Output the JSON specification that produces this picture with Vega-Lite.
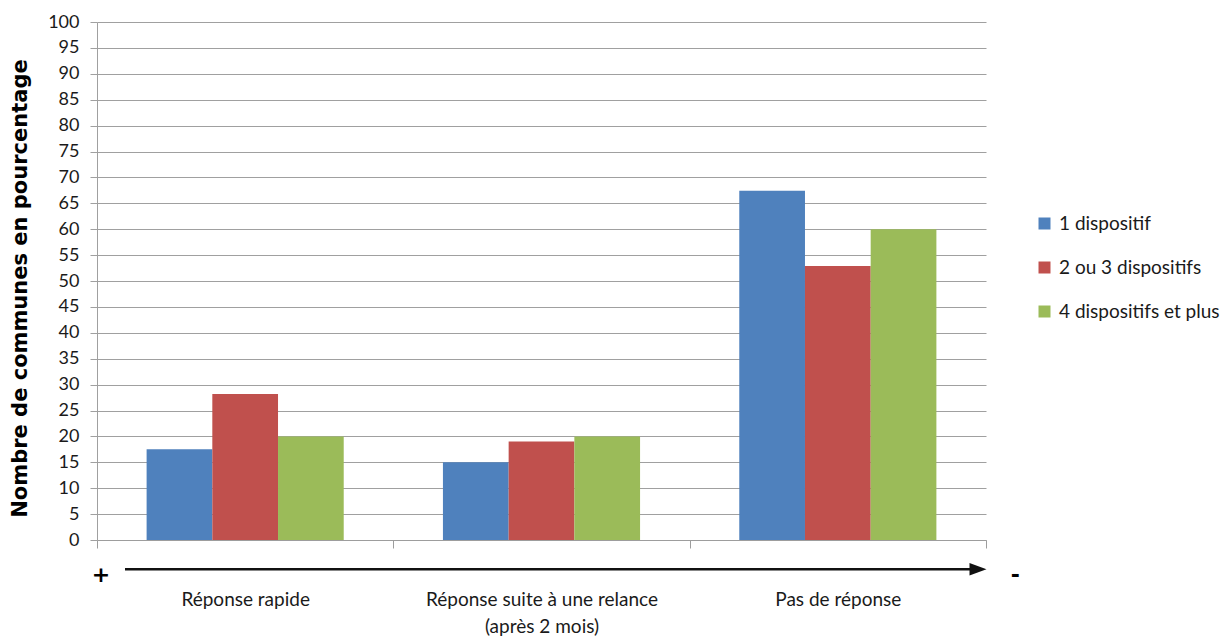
{
  "$schema": "https://vega.github.io/schema/vega-lite/v6.json",
  "autosize": {"type": "none"},
  "padding": {"left": 97, "top": 22, "right": 237, "bottom": 99},
  "width": 889,
  "height": 518,
  "background": "white",
  "config": {"view": {"stroke": null}},
  "resolve": {"scale": {"x": "independent", "y": "independent"}},
  "layer": [
    {
      "data": {"values": [
        {"cat": "Réponse rapide", "group": "1 dispositif", "value": 17.5},
        {"cat": "Réponse rapide", "group": "2 ou 3 dispositifs", "value": 28.2},
        {"cat": "Réponse rapide", "group": "4 dispositifs et plus", "value": 20},
        {"cat": "Réponse suite à une relance (après 2 mois)", "group": "1 dispositif", "value": 15},
        {"cat": "Réponse suite à une relance (après 2 mois)", "group": "2 ou 3 dispositifs", "value": 19},
        {"cat": "Réponse suite à une relance (après 2 mois)", "group": "4 dispositifs et plus", "value": 20},
        {"cat": "Pas de réponse", "group": "1 dispositif", "value": 67.4},
        {"cat": "Pas de réponse", "group": "2 ou 3 dispositifs", "value": 52.9},
        {"cat": "Pas de réponse", "group": "4 dispositifs et plus", "value": 60}
      ]},
      "mark": {"type": "bar"},
      "encoding": {
        "x": {
          "field": "cat", "type": "nominal", "sort": null,
          "scale": {"paddingInner": 0, "paddingOuter": 0},
          "axis": {
            "title": null, "domain": true, "domainColor": "#9d9d9d",
            "ticks": true, "tickBand": "extent", "tickColor": "#9d9d9d", "tickSize": 8,
            "labelPadding": 42, "labelFont": "Lato", "labelFontSize": 19, "labelColor": "#1a1a1a",
            "labelAngle": 0, "labelLineHeight": 27, "labelLimit": 500,
            "labelExpr": "datum.label == 'Réponse suite à une relance (après 2 mois)' ? ['Réponse suite à une relance', '(après 2 mois)'] : datum.label"
          }
        },
        "xOffset": {"field": "group", "type": "nominal", "sort": null, "scale": {"paddingInner": 0, "paddingOuter": 0.755}},
        "y": {
          "field": "value", "type": "quantitative",
          "scale": {"domain": [0, 100], "nice": false},
          "axis": {
            "title": "Nombre de communes  en pourcentage",
            "values": [0, 5, 10, 15, 20, 25, 30, 35, 40, 45, 50, 55, 60, 65, 70, 75, 80, 85, 90, 95, 100],
            "grid": true, "gridColor": "#a0a0a0", "domainColor": "#a0a0a0", "tickColor": "#a0a0a0",
            "tickSize": 7, "labelPadding": 11, "labelFont": "Lato", "labelFontSize": 18, "labelColor": "#1a1a1a",
            "titleFont": "DejaVu Sans", "titleFontSize": 21, "titleFontWeight": "bold", "titleColor": "#000000",
            "titlePadding": 17, "titleY": 266
          }
        },
        "color": {
          "field": "group", "type": "nominal", "sort": null,
          "scale": {"domain": ["1 dispositif", "2 ou 3 dispositifs", "4 dispositifs et plus"], "range": ["#4f81bd", "#c0504d", "#9bbb59"]},
          "legend": {
            "title": null, "orient": "none", "legendX": 938, "legendY": 192,
            "symbolType": "square", "symbolSize": 144, "symbolStrokeWidth": 0,
            "labelFont": "Lato", "labelFontSize": 19, "labelColor": "#1a1a1a", "labelOffset": 5, "rowPadding": 24,
            "labelLimit": 400
          }
        }
      }
    },
    {
      "data": {"values": [{}]},
      "mark": {"type": "rule", "color": "#111111", "strokeWidth": 2.5},
      "encoding": {
        "x": {"datum": 0.0315, "type": "quantitative", "scale": {"domain": [0, 1], "nice": false, "zero": false}, "axis": null},
        "x2": {"datum": 0.985},
        "y": {"datum": -5.67, "type": "quantitative", "scale": {"domain": [0, 100], "nice": false}, "axis": null}
      }
    },
    {
      "data": {"values": [{}]},
      "mark": {"type": "point", "shape": "M-0.85,-0.625L0.85,0L-0.85,0.625Z", "filled": true, "color": "#111111", "opacity": 1, "size": 400},
      "encoding": {
        "x": {"datum": 0.991, "type": "quantitative", "scale": {"domain": [0, 1], "nice": false, "zero": false}, "axis": null},
        "y": {"datum": -5.67, "type": "quantitative", "scale": {"domain": [0, 100], "nice": false}, "axis": null}
      }
    },
    {
      "data": {"values": [{}]},
      "mark": {"type": "text", "font": "DejaVu Sans", "fontWeight": "bold", "fontSize": 22, "color": "#000000", "baseline": "middle", "align": "center"},
      "encoding": {
        "text": {"value": "+"},
        "x": {"datum": 0.0045, "type": "quantitative", "scale": {"domain": [0, 1], "nice": false, "zero": false}, "axis": null},
        "y": {"datum": -6.8, "type": "quantitative", "scale": {"domain": [0, 100], "nice": false}, "axis": null}
      }
    },
    {
      "data": {"values": [{}]},
      "mark": {"type": "text", "font": "DejaVu Sans", "fontWeight": "bold", "fontSize": 22, "color": "#000000", "baseline": "middle", "align": "center"},
      "encoding": {
        "text": {"value": "-"},
        "x": {"datum": 1.033, "type": "quantitative", "scale": {"domain": [0, 1], "nice": false, "zero": false}, "axis": null},
        "y": {"datum": -6.8, "type": "quantitative", "scale": {"domain": [0, 100], "nice": false}, "axis": null}
      }
    }
  ]
}
